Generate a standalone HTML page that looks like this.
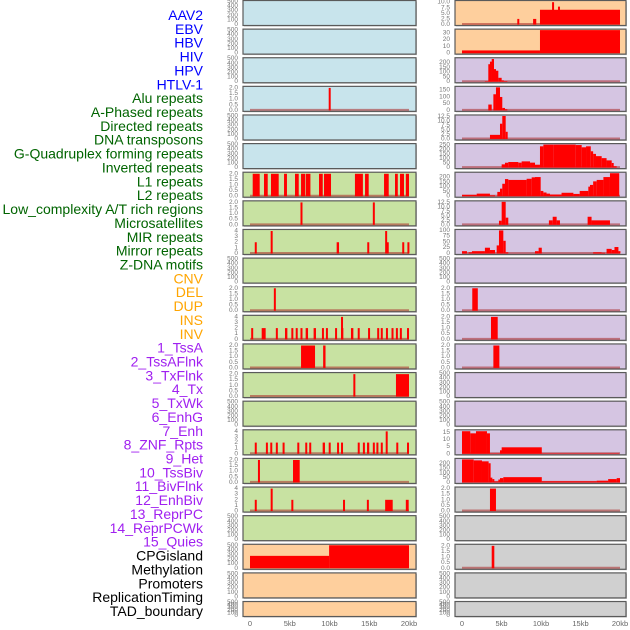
<!DOCTYPE html>
<html><head><meta charset="utf-8"><style>
html,body{margin:0;padding:0;background:#fff;width:630px;height:630px;overflow:hidden}
svg{display:block;font-family:"Liberation Sans",sans-serif}
</style></head><body>
<svg id="chart" width="630" height="630" viewBox="0 0 630 630" xmlns="http://www.w3.org/2000/svg"></svg>
<script>
const labels=["AAV2","EBV","HBV","HIV","HPV","HTLV-1","Alu repeats","A-Phased repeats","Directed repeats","DNA transposons","G-Quadruplex forming repeats","Inverted repeats","L1 repeats","L2 repeats","Low_complexity A/T rich regions","Microsatellites","MIR repeats","Mirror repeats","Z-DNA motifs","CNV","DEL","DUP","INS","INV","1_TssA","2_TssAFlnk","3_TxFlnk","4_Tx","5_TxWk","6_EnhG","7_Enh","8_ZNF_Rpts","9_Het","10_TssBiv","11_BivFlnk","12_EnhBiv","13_ReprPC","14_ReprPCWk","15_Quies","CPGisland","Methylation","Promoters","ReplicationTiming","TAD_boundary"];
const labelColors=["#0000ff","#006400","#ffa500","#a020f0","#000000"];
const labelGroupSizes=[6,13,5,15,5];
const xTickLabels=["0","5kb","10kb","15kb","20kb"];
const xTickValues=[0,5,10,15,20];
const leftBgs=["b","b","b","b","b","b","g","g","g","g","g","g","g","g","g","g","g","g","g","o","o","o"];
const rightBgs=["o","o","p","p","p","p","p","p","p","p","p","p","p","p","p","p","p","x","x","x","x","x"];
// y-axis specs: [ymax, ticks, decimals]
const E=[500,[0,100,200,300,400,500],0];
const T2=[2.05,[0,0.5,1,1.5,2],1];
const T4=[4.1,[0,1,2,3,4],0];
const leftAxes=[E,E,E,T2,E,E,T2,T2,T4,E,T2,T4,T2,T2,E,T4,T2,T4,E,E,E,E];
const rightAxes=[[10.3,[0,2.5,5,7.5,10],1],[34,[0,10,20,30],0],[240,[0,50,100,150,200],0],[170,[0,50,100,150],0],[12.8,[0,2.5,5,7.5,10,12.5],1],[255,[0,50,100,150,200,250],0],[240,[0,50,100,150,200],0],[12.8,[0,2.5,5,7.5,10,12.5],1],[100,[0,25,50,75,100],0],E,T2,T2,T2,E,E,[16.3,[0,5,10,15],0],[240,[0,50,100,150,200],0],T2,E,T2,E,E];
// segments [startKb,endKb,value]
const L3=[[9.9,10.15,2]];
const L6=[[0.34,1.22,2],[1.76,2.23,2],[2.64,3.61,2],[4.28,4.65,2],[5.66,6.13,2],[6.42,6.92,2],[7.0,7.6,2],[8.68,9.15,2],[9.31,10.19,2],[13.2,14.2,2],[14.47,14.93,2],[16.86,17.45,2],[18.24,18.59,2],[18.87,19.37,2],[19.6,20.0,2]];
const L7=[[6.35,6.6,2],[15.45,15.7,2]];
const L8=[[0.6,0.85,2],[2.6,2.85,4],[10.9,11.2,2],[14.75,15.0,2],[17.0,17.2,4],[17.2,17.4,2],[19.15,19.4,2],[19.8,20.0,2]];
const L10=[[3.0,3.25,2]];
const L11=[[0.15,0.4,2],[1.47,1.97,2],[3.25,3.5,2],[4.4,4.7,2],[5.2,5.45,2],[5.75,6.0,2],[6.35,6.6,2],[7.0,7.3,2],[8.0,8.3,2],[9.05,9.3,2],[9.55,9.8,2],[10.7,10.95,2],[11.45,11.74,2],[11.45,11.7,4],[12.7,13.0,2],[13.55,13.8,2],[14.85,15.1,2],[16.0,16.25,2],[16.45,16.7,2],[17.1,17.35,2],[17.8,18.05,2],[18.35,18.6,2],[18.85,19.1,2],[19.75,20.0,2]];
const L12=[[6.42,8.18,2],[9.2,9.5,2]];
const L13=[[13.0,13.25,2],[18.36,20.0,2]];
const L15=[[0.6,0.85,2],[2.0,2.25,2],[2.55,2.8,2],[3.25,3.5,2],[4.1,4.35,2],[5.95,6.2,2],[6.95,7.2,2],[7.45,7.7,2],[9.14,9.43,2],[9.9,10.15,2],[10.95,11.2,2],[11.45,11.7,2],[13.55,13.8,2],[14.2,14.45,2],[14.72,15.0,2],[15.45,15.7,2],[15.9,16.14,2],[16.45,16.7,2],[17.07,17.32,4],[18.4,18.65,2],[19.75,20.0,2]];
const L16=[[1.0,1.25,2],[5.41,6.25,2]];
const L17=[[0.6,0.85,2],[2.6,2.85,4],[5.2,5.45,2],[11.7,11.95,2],[14.7,14.95,2],[17.0,17.95,2],[19.6,19.96,2]];
const L19=[[0,9.95,270],[9.95,20.0,510]];
const R0=[[7.0,7.25,2.5],[9.0,9.4,2.5],[9.87,20,6.6],[11.4,11.6,10],[12.15,12.4,8]];
const R1=[[0,9.87,4],[9.87,20,34]];
const R2=[[2.9,3.33,5],[3.33,3.54,183],[3.54,3.76,210],[3.76,4.05,237],[4.05,4.3,132],[4.3,4.6,115],[4.6,5.02,41],[5.02,5.3,14],[5.3,5.74,6]];
const R3=[[3.33,3.76,43],[3.97,4.3,119],[4.3,4.81,177],[4.81,5.1,99],[5.1,5.44,18],[5.44,5.74,8]];
const R4=[[3.54,4.81,2.3],[4.81,5.1,8.5],[5.1,5.53,12.8],[5.53,5.7,4]];
const R5=[[5.02,5.44,36],[5.44,5.86,54],[5.86,7.13,62],[7.13,7.55,55],[7.55,8.61,69],[8.61,9.24,55],[9.24,9.87,32],[9.87,10.3,236],[10.3,11.56,257],[11.56,14.4,260],[14.4,15.15,250],[15.15,15.7,225],[15.7,16.3,236],[16.3,16.6,181],[16.6,16.96,152],[16.96,17.68,127],[17.68,18.3,105],[18.3,18.95,80],[18.95,19.16,51],[19.16,19.58,15]];
const R6=[[0,1.86,15],[1.86,3.54,27],[3.54,4.18,9],[4.47,4.81,45],[4.81,5.1,79],[5.1,5.44,130],[5.44,5.86,179],[5.86,8.18,170],[8.18,8.82,182],[8.82,9.24,197],[9.24,9.96,200],[9.96,10.3,55],[10.3,10.7,39],[10.7,11.14,27],[11.14,12.6,18],[12.6,14.1,36],[14.1,14.9,24],[14.9,15.99,55],[15.99,16.2,100],[16.2,16.6,118],[16.6,17.05,155],[17.05,17.9,170],[17.9,18.73,200],[18.73,19.9,240]];
const R7=[[4.68,5.02,2.3],[5.02,5.53,12.8],[5.53,5.86,4],[11.0,11.48,2.5],[11.48,11.98,4.5],[11.98,12.4,2.5],[15.9,16.4,4.5],[16.4,18.73,2.5]];
const R8=[[0,0.63,10],[0.84,1.26,5],[1.26,2.9,10],[2.9,3.54,25],[3.54,4.18,15],[4.39,4.68,35],[4.68,5.23,100],[5.23,5.53,55],[5.53,5.86,5],[9.24,9.7,10],[9.7,10.1,25],[16.6,17.68,5],[17.68,18.1,3],[18.3,18.95,20],[18.95,19.3,15],[19.3,19.8,28],[19.8,20,10]];
const R10=[[1.3,2.0,2]];
const R11=[[3.67,4.52,2]];
const R12=[[3.97,4.73,2]];
const R15=[[0,1.05,16],[1.05,1.77,14.5],[1.77,3.16,16],[3.16,3.54,14.5],[3.54,4.81,0.3],[4.81,5.02,2.5],[5.02,10.1,4.6],[10.1,19.9,0.3]];
const R16=[[0,1.48,240],[1.48,2.53,230],[2.53,3.37,220],[3.37,3.54,200],[3.54,3.84,50],[3.84,4.05,35],[4.05,4.6,10],[4.6,4.81,30],[4.81,5.23,45],[5.23,10.1,55],[10.1,17.05,12],[17.05,18.5,18],[18.5,19.58,35],[19.58,20,45]];
const R17=[[3.54,4.3,2]];
const R19=[[3.76,4.09,2]];
const leftData={3:L3,6:L6,7:L7,8:L8,10:L10,11:L11,12:L12,13:L13,15:L15,16:L16,17:L17,19:L19};
const rightData={0:R0,1:R1,2:R2,3:R3,4:R4,5:R5,6:R6,7:R7,8:R8,10:R10,11:R11,12:R12,15:R15,16:R16,17:R17,19:R19};

const NS="http://www.w3.org/2000/svg";
const svg=document.getElementById('chart');
const bgColors={b:"#c8e4ec",g:"#c8e2a2",o:"#fecf9d",p:"#d5c5e2",x:"#d0d0d0"};
function mk(tag,attrs,parent){const e=document.createElementNS(NS,tag);for(const k in attrs)e.setAttribute(k,attrs[k]);(parent||svg).appendChild(e);return e;}
// labels
let li=0;
labelGroupSizes.forEach((n,g)=>{for(let j=0;j<n;j++){const t=mk('text',{x:203,y:15+li*13.86,'text-anchor':'end','dominant-baseline':'central','font-size':14,fill:labelColors[g]});


t.textContent=labels[li];li++;}});
const cols=[{x0:243,x1:416,z:250,w:159,bgs:leftBgs,axes:leftAxes,data:leftData,tx:238,name:'left'},{x0:455,x1:626,z:462,w:158,bgs:rightBgs,axes:rightAxes,data:rightData,tx:450,name:'right'}];
function fmt(v,d){return d?v.toFixed(1):String(v);}
cols.forEach(c=>{
  const xs=kb=>c.z+kb/20*c.w;
  for(let i=0;i<22;i++){
    const top=0.5+i*28.62, h=(i==21)?15:25, bot=top+h;
    const g=mk('g',{});
    
    
    mk('rect',{x:c.x0+1,y:top+1,width:c.x1-c.x0,height:h,fill:'#c8c8c8'},g);
    mk('rect',{x:c.x0,y:top,width:c.x1-c.x0,height:h,fill:bgColors[c.bgs[i]],stroke:'#5a5a5a','stroke-width':1.2},g);
    const ax=c.axes[i], ymax=ax[0];
    const ys=v=>bot-1-Math.min(v,ymax)/ymax*(h-2);
    ax[1].forEach(tv=>{const t=mk('text',{x:c.tx,y:ys(tv),'text-anchor':'end','dominant-baseline':'central','font-size':6.5,fill:'#777'},g);
      
      
      t.textContent=fmt(tv,ax[2]);});
    const segs=c.data[i];
    if(segs){
      if(!(c.name=='left'&&i==19)){const ln=mk('line',{x1:xs(0),x2:xs(20),y1:bot-1.5,y2:bot-1.5,stroke:'rgba(170,40,40,0.55)','stroke-width':2},g);
        
        }
      segs.forEach(s=>{const x1=xs(s[0]),x2=xs(s[1]);const w=Math.max(2,x2-x1);const y=ys(s[2]);
        const r=mk('rect',{x:x1,y:y,width:w,height:bot-1-y,fill:'#ff0000'},g);
        
        });
    }
  }
  xTickValues.forEach((v,k)=>{const t=mk('text',{x:xs(v),y:626,'text-anchor':'middle','font-size':7.5,fill:'#666'});
    
    
    t.textContent=xTickLabels[k];});
});
</script>
</body></html>
